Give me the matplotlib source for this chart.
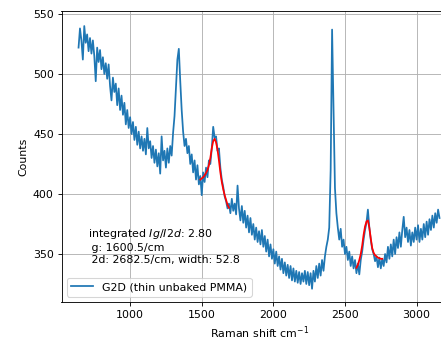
import numpy as np
import matplotlib.pyplot as plt

shift = np.arange(640, 3170, 10)
counts = [
    522, 538, 528, 512, 540, 526, 533, 519, 530, 517,
    528, 515, 494, 522, 510, 520, 504, 514, 500, 509,
    496, 508, 490, 478, 497, 485, 492, 474, 488, 470,
    482, 466, 476, 458, 470, 455, 464, 450, 460, 445,
    456, 441, 452, 438, 448, 436, 446, 433, 455, 438,
    444, 430, 440, 426, 437, 423, 434, 417, 448, 428,
    436, 422, 438, 426, 440, 432, 451, 465, 488, 512,
    521, 494, 470, 452, 440, 446, 434, 440, 425, 433,
    418, 428, 412, 424, 408, 415, 399, 418, 410, 422,
    414, 428, 425, 438, 456, 447, 448, 436, 438, 422,
    412, 406, 398, 394, 388, 392, 384, 396, 386, 392,
    383, 407, 388, 378, 390, 376, 386, 372, 382, 368,
    380, 366, 375, 362, 372, 360, 369, 358, 370, 356,
    365, 352, 362, 348, 358, 346, 354, 342, 352, 340,
    348, 337, 346, 334, 343, 332, 341, 330, 340, 328,
    338, 327, 336, 326, 335, 325, 334, 327, 336, 325,
    335, 324, 334, 321, 336, 327, 340, 330, 342, 332,
    345, 336, 348, 356, 362, 372, 420, 537, 470, 405,
    384, 372, 362, 371, 356, 362, 350, 356, 345, 352,
    340, 348, 338, 345, 334, 342, 333, 345, 352, 362,
    370, 376, 387, 372, 362, 354, 350, 344, 348, 339,
    347, 338, 346, 340, 350, 343, 356, 346, 358, 348,
    362, 350, 364, 355, 368, 356, 370, 381, 364, 372,
    360, 370, 357, 368, 360, 372, 362, 374, 360, 371,
    362, 375, 364, 377, 366, 379, 370, 382, 372, 384,
    376, 387, 380,
]

# fitted G and 2D peaks
g_shift = np.arange(1490, 1700, 10)
g_fit = [412, 413, 414, 415.5, 417.5, 420, 424, 430, 438, 444, 446,
         443, 437, 428, 418, 410, 404, 399, 395, 391, 388.5]
d2_shift = np.arange(2580, 2770, 10)
d2_fit = [338.5, 341, 345, 350, 357, 366, 373, 377, 378, 372,
          363, 355, 351, 349, 348, 347, 346.5, 346, 346]

dpi = 79
fig = plt.figure(figsize=(441 / dpi, 341 / dpi), dpi=dpi)
ax = fig.add_axes([61.5 / 441, 39 / 341, (457 - 61.5) / 441, (330 - 39) / 341])

ax.plot(shift, counts, color="C0", lw=1.6, label="G2D (thin unbaked PMMA)")
ax.plot(g_shift, g_fit, color="r", lw=1.6)
ax.plot(d2_shift, d2_fit, color="r", lw=1.6)

ax.text(707, 356.5, "integrated $Ig/I2d$: 2.80\n g: 1600.5/cm\n 2d: 2682.5/cm, width: 52.8",
        va="center", ha="left", linespacing=1.25)

ax.set_xlim(521, 3282)
ax.set_ylim(310, 552.5)
ax.set_xticks([1000, 1500, 2000, 2500, 3000])
ax.set_yticks([350, 400, 450, 500, 550])
ax.set_xlabel("Raman shift cm$^{-1}$")
ax.set_ylabel("Counts")
ax.grid(True)
ax.legend(loc="lower left")

plt.savefig("out.png", dpi=dpi)
plt.close()
